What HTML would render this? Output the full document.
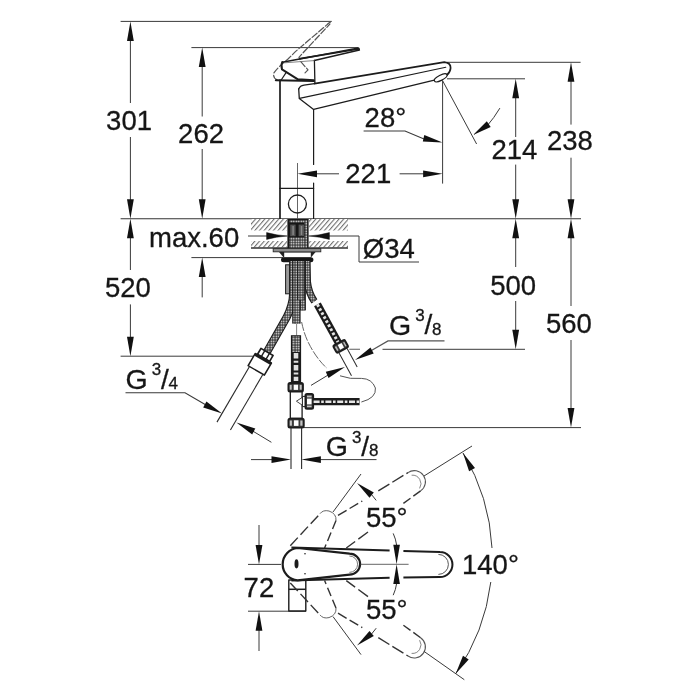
<!DOCTYPE html>
<html lang="en"><head><meta charset="utf-8"><title>Dimensional drawing</title>
<style>html,body{margin:0;padding:0;background:#fff}svg{display:block;will-change:transform}text{font-family:"Liberation Sans",sans-serif;fill:#161616;stroke:#161616;stroke-width:0.3px}</style></head><body>
<svg width="700" height="700" viewBox="0 0 700 700">
<rect width="700" height="700" fill="#fff"/>
<defs>
<pattern id="braid" width="2.5" height="2.5" patternUnits="userSpaceOnUse"><rect width="2.5" height="2.5" fill="#1e1e1e"/><rect x="0.5" y="0.5" width="1.55" height="1.55" fill="#fff"/></pattern>
<pattern id="braidr" width="2.5" height="2.5" patternUnits="userSpaceOnUse" patternTransform="rotate(-29)"><rect width="2.5" height="2.5" fill="#1e1e1e"/><rect x="0.5" y="0.5" width="1.55" height="1.55" fill="#fff"/></pattern>
<pattern id="braidl" width="2.5" height="2.5" patternUnits="userSpaceOnUse" patternTransform="rotate(30)"><rect width="2.5" height="2.5" fill="#1e1e1e"/><rect x="0.5" y="0.5" width="1.55" height="1.55" fill="#fff"/></pattern>
<pattern id="hatch" width="3.5" height="3.5" patternUnits="userSpaceOnUse" patternTransform="rotate(41)"><rect width="3.5" height="3.5" fill="#fff"/><line x1="0.6" y1="0" x2="0.6" y2="3.5" stroke="#5a5a5a" stroke-width="0.95"/></pattern>
</defs>
<g id="dims" fill="none">
<line x1="120.6" y1="21.4" x2="331.4" y2="21.4" stroke="#3a3a3a" stroke-width="1.0" />
<line x1="191.4" y1="47.6" x2="358" y2="47.6" stroke="#3a3a3a" stroke-width="1.0" />
<line x1="120.6" y1="218.7" x2="581" y2="218.7" stroke="#333" stroke-width="1.1" />
<line x1="191.4" y1="257.6" x2="283" y2="257.6" stroke="#3a3a3a" stroke-width="1.0" />
<line x1="120.6" y1="356.2" x2="255" y2="356.2" stroke="#3a3a3a" stroke-width="1.0" />
<line x1="447" y1="62.3" x2="580.6" y2="62.3" stroke="#3a3a3a" stroke-width="1.0" />
<line x1="447" y1="78.8" x2="525" y2="78.8" stroke="#3a3a3a" stroke-width="1.0" />
<line x1="349.3" y1="349.3" x2="360" y2="349.3" stroke="#777" stroke-width="1.2" />
<line x1="382.5" y1="349.3" x2="525" y2="349.3" stroke="#3a3a3a" stroke-width="1.0" />
<line x1="304" y1="427.6" x2="581" y2="427.6" stroke="#3a3a3a" stroke-width="1.0" />
<line x1="130.4" y1="40" x2="130.4" y2="103" stroke="#3a3a3a" stroke-width="1.0" />
<line x1="130.4" y1="137" x2="130.4" y2="200" stroke="#3a3a3a" stroke-width="1.0" />
<line x1="130.4" y1="238" x2="130.4" y2="270" stroke="#3a3a3a" stroke-width="1.0" />
<line x1="130.4" y1="304.4" x2="130.4" y2="338" stroke="#3a3a3a" stroke-width="1.0" />
<line x1="202.2" y1="66" x2="202.2" y2="116.5" stroke="#3a3a3a" stroke-width="1.0" />
<line x1="202.2" y1="149" x2="202.2" y2="200" stroke="#3a3a3a" stroke-width="1.0" />
<line x1="202.2" y1="276" x2="202.2" y2="297.4" stroke="#3a3a3a" stroke-width="1.0" />
<line x1="515.7" y1="97" x2="515.7" y2="137" stroke="#3a3a3a" stroke-width="1.0" />
<line x1="515.7" y1="164.6" x2="515.7" y2="200" stroke="#3a3a3a" stroke-width="1.0" />
<line x1="515.7" y1="237" x2="515.7" y2="267" stroke="#3a3a3a" stroke-width="1.0" />
<line x1="515.7" y1="301" x2="515.7" y2="331" stroke="#3a3a3a" stroke-width="1.0" />
<line x1="571" y1="81" x2="571" y2="124.6" stroke="#3a3a3a" stroke-width="1.0" />
<line x1="571" y1="157.7" x2="571" y2="200" stroke="#3a3a3a" stroke-width="1.0" />
<line x1="571" y1="237" x2="571" y2="306" stroke="#3a3a3a" stroke-width="1.0" />
<line x1="571" y1="340" x2="571" y2="409" stroke="#3a3a3a" stroke-width="1.0" />
<line x1="297.5" y1="163" x2="297.5" y2="221" stroke="#555" stroke-width="0.9" />
<line x1="442.6" y1="80.5" x2="442.6" y2="183.6" stroke="#3a3a3a" stroke-width="1.0" />
<line x1="316" y1="173.8" x2="339" y2="173.8" stroke="#3a3a3a" stroke-width="1.0" />
<line x1="399.6" y1="173.8" x2="424" y2="173.8" stroke="#3a3a3a" stroke-width="1.0" />
<path d="M363.6 131 H405 L424 139" stroke="#3a3a3a" stroke-width="1.1" fill="none" />
<line x1="442.6" y1="80.7" x2="476.6" y2="144" stroke="#3a3a3a" stroke-width="1.0" />
<path d="M499.9 108.1 Q494 118 487 126" stroke="#3a3a3a" stroke-width="1.0" fill="none" />
<line x1="248" y1="236" x2="268" y2="236" stroke="#3a3a3a" stroke-width="1.0" />
<path d="M327 236 H359 V262 H419" stroke="#3a3a3a" stroke-width="1.0" fill="none" />
<path d="M125.5 392.8 H185 L206 405" stroke="#3a3a3a" stroke-width="1.1" fill="none" />
<line x1="252" y1="430.6" x2="271.4" y2="442.3" stroke="#3a3a3a" stroke-width="1.0" />
<path d="M444.5 340.9 H388 L371 350.8" stroke="#555" stroke-width="1.3" fill="none" />
<line x1="329.5" y1="374.2" x2="311" y2="385.4" stroke="#3a3a3a" stroke-width="1.0" />
<line x1="251" y1="459.6" x2="272" y2="459.6" stroke="#3a3a3a" stroke-width="1.0" />
<line x1="320" y1="459.6" x2="376.5" y2="459.6" stroke="#3a3a3a" stroke-width="1.0" />
<line x1="248" y1="564.4" x2="281" y2="564.4" stroke="#3a3a3a" stroke-width="1.0" />
<line x1="248" y1="611.2" x2="306" y2="611.2" stroke="#3a3a3a" stroke-width="1.0" />
<line x1="259" y1="525" x2="259" y2="546" stroke="#3a3a3a" stroke-width="1.0" />
<line x1="259" y1="630" x2="259" y2="651" stroke="#3a3a3a" stroke-width="1.0" />
</g>
<g id="arrows">
<polygon points="130.4,21.4 133.8,40.9 127,40.9" fill="#111"/>
<polygon points="130.4,218.7 127,199.2 133.8,199.2" fill="#111"/>
<polygon points="130.4,218.7 133.8,238.2 127,238.2" fill="#111"/>
<polygon points="130.4,356.2 127,336.7 133.8,336.7" fill="#111"/>
<polygon points="202.2,47.6 205.6,67.1 198.8,67.1" fill="#111"/>
<polygon points="202.2,218.7 198.8,199.2 205.6,199.2" fill="#111"/>
<polygon points="202.2,257.6 205.6,277.1 198.8,277.1" fill="#111"/>
<polygon points="515.7,78.8 519.1,98.3 512.3,98.3" fill="#111"/>
<polygon points="515.7,218.7 512.3,199.2 519.1,199.2" fill="#111"/>
<polygon points="515.7,218.7 519.1,238.2 512.3,238.2" fill="#111"/>
<polygon points="515.7,349.3 512.3,329.8 519.1,329.8" fill="#111"/>
<polygon points="571,62.3 574.4,81.8 567.6,81.8" fill="#111"/>
<polygon points="571,218.7 567.6,199.2 574.4,199.2" fill="#111"/>
<polygon points="571,218.7 574.4,238.2 567.6,238.2" fill="#111"/>
<polygon points="571,427.6 567.6,408.1 574.4,408.1" fill="#111"/>
<polygon points="297.5,173.8 317,170.4 317,177.2" fill="#111"/>
<polygon points="442.6,173.8 423.1,177.2 423.1,170.4" fill="#111"/>
<polygon points="442.6,142.6 422.8,141.6 424.3,135" fill="#111"/>
<polygon points="473.1,134.9 486.8,121.3 490.7,126.9" fill="#111"/>
<path d="M287.4 236 Q276 235.3 266.6 232.6 L266.6 239.4 Q276 236.7 287.4 236 Z" fill="#111" stroke="#111" stroke-width="0.5"/>
<path d="M308.6 236 Q320 235.3 329.4 232.6 L329.4 239.4 Q320 236.7 308.6 236 Z" fill="#111" stroke="#111" stroke-width="0.5"/>
<polygon points="222.1,413.6 203.2,407.6 206.4,401.6" fill="#111"/>
<polygon points="236.4,422.6 255.3,428.5 252.2,434.5" fill="#111"/>
<polygon points="355,360 370.5,347.6 373.7,353.6" fill="#111"/>
<polygon points="345,367.1 328.5,378.1 325.8,371.8" fill="#111"/>
<polygon points="291,459.6 271.5,463 271.5,456.2" fill="#111"/>
<polygon points="301.4,459.6 320.9,456.2 320.9,463" fill="#111"/>
<polygon points="259,564.4 255.6,544.9 262.4,544.9" fill="#111"/>
<polygon points="259,611.2 262.4,630.7 255.6,630.7" fill="#111"/>
</g>
<g id="labels" opacity="0.995">
<text x="106.1" y="129.5" font-size="27.5" >301</text>
<text x="178.1" y="142.6" font-size="27.5" >262</text>
<text x="149" y="246.8" font-size="27.5" >max.60</text>
<text x="104.9" y="297" font-size="27.5" >520</text>
<text x="491.4" y="158.5" font-size="27.5" >214</text>
<text x="546.9" y="149.6" font-size="27.5" >238</text>
<text x="345.3" y="182.8" font-size="27.5" >221</text>
<text x="364.6" y="127.4" font-size="27.5" >28°</text>
<text x="362.8" y="258.1" font-size="27.5" >Ø34</text>
<text x="490.2" y="294.6" font-size="27.5" >500</text>
<text x="546" y="332.6" font-size="27.5" >560</text>
<text x="243.6" y="597" font-size="27.5" >72</text>
<text x="366" y="527.2" font-size="27.5" >55°</text>
<text x="366" y="619" font-size="27.5" >55°</text>
<text x="462" y="573.6" font-size="27.5" >140°</text>
<text x="125.5" y="389" font-size="28.5" >G</text>
<text x="151.7" y="375.2" font-size="17" >3</text>
<text x="161" y="388.8" font-size="28" >/</text>
<text x="168.6" y="388.9" font-size="17" >4</text>
<text x="389" y="334.6" font-size="28.5" >G</text>
<text x="415.2" y="320.8" font-size="17" >3</text>
<text x="424.5" y="334.4" font-size="28" >/</text>
<text x="432.1" y="334.5" font-size="17" >8</text>
<text x="325.8" y="456.4" font-size="28.5" >G</text>
<text x="352" y="442.6" font-size="17" >3</text>
<text x="361.3" y="456.2" font-size="28" >/</text>
<text x="368.9" y="456.3" font-size="17" >8</text>
</g>
<g id="faucet" fill="none" stroke-linejoin="round" stroke-linecap="round">
<path d="M330.3 21.9 L295.4 51.6 L288 59 Q277 68 273.9 73 Q272.6 77.6 277 79.8" stroke="#555" stroke-width="1.2" fill="none" stroke-dasharray="6.5 2.2"/>
<path d="M329.9 24 L298.9 57.3 L301 61.9 L308 69.9 L304.6 73.3" stroke="#555" stroke-width="1.2" fill="none" stroke-dasharray="6.5 2.2" stroke-dashoffset="2"/>
<path d="M331.4 21.5 L327.6 23.8" stroke="#5a5a5a" stroke-width="1.0" fill="none" />
<line x1="280" y1="80" x2="280" y2="218.7" stroke="#1c1c1c" stroke-width="1.7" />
<line x1="313.6" y1="109.5" x2="313.6" y2="164.5" stroke="#1c1c1c" stroke-width="1.2" />
<line x1="313.6" y1="183" x2="313.6" y2="218.7" stroke="#1c1c1c" stroke-width="1.2" />
<line x1="280" y1="188.4" x2="313.6" y2="188.4" stroke="#1c1c1c" stroke-width="1.2" />
<circle cx="297.4" cy="204" r="9" stroke="#1c1c1c" stroke-width="1.3"/>
<line x1="275.8" y1="80.3" x2="314" y2="80.9" stroke="#1c1c1c" stroke-width="2.0" />
<path d="M286.4 72.1 L281.2 80" stroke="#1c1c1c" stroke-width="1.2" fill="none" />
<path d="M282.2 62.2 L358.6 48 L359.4 50 L314.3 60.4" stroke="#1c1c1c" stroke-width="1.5" fill="none" />
<path d="M300 58.6 L358.8 49" stroke="#1c1c1c" stroke-width="1.6" fill="none" />
<path d="M282.3 62.1 Q280.8 65 282 69.4 L297.9 79.3 L313.8 80.2" stroke="#1c1c1c" stroke-width="2.0" fill="none" />
<path d="M314.4 60.4 L314.9 83" stroke="#1c1c1c" stroke-width="1.3" fill="none" />
<path d="M284.5 62.8 L314 60.6" stroke="#666" stroke-width="0.8" fill="none" />
<path d="M314.5 83.6 L444.3 62.2 Q450.8 63 450.6 68 Q450.4 72 447 75" stroke="#1c1c1c" stroke-width="1.7" fill="none" />
<path d="M298.7 89 Q300 85.6 304 85.1 L314.5 83.6" stroke="#1c1c1c" stroke-width="1.3" fill="none" />
<path d="M298.7 89 L299.3 98.6 L313.6 109.4 L434.3 80.2" stroke="#1c1c1c" stroke-width="1.3" fill="none" />
<path d="M299.5 98.4 L445.8 67.2" stroke="#1c1c1c" stroke-width="1.1" fill="none" />
<ellipse cx="440.7" cy="77.8" rx="7" ry="2.6" transform="rotate(-27 440.7 77.8)" stroke="#1c1c1c" stroke-width="1.2" fill="#fff"/>
</g>
<g id="mount">
<rect x="251" y="219" width="36" height="11.5" fill="url(#hatch)"/>
<rect x="309" y="219" width="39" height="11.5" fill="url(#hatch)"/>
<rect x="251" y="241" width="36" height="6.5" fill="url(#hatch)"/>
<rect x="309" y="241" width="39" height="6.5" fill="url(#hatch)"/>
<line x1="251" y1="248" x2="348" y2="248" stroke="#333" stroke-width="1.5" />
<rect x="287.4" y="219" width="21.2" height="29.4" fill="#161616"/>
<rect x="289.4" y="237.4" width="15.2" height="10.4" fill="url(#braid)"/>
<rect x="304.6" y="220" width="2.6" height="27.8" fill="url(#braid)"/>
<rect x="289.6" y="220.2" width="15" height="2.4" fill="url(#braid)"/>
<rect x="290.2" y="224.6" width="5.4" height="11.6" fill="#555"/>
<rect x="298.6" y="224.6" width="5.4" height="11.6" fill="#555"/>
<rect x="292.4" y="226" width="1.4" height="9" fill="#8a8a8a"/>
<rect x="300.8" y="226" width="1.4" height="9" fill="#8a8a8a"/>
<rect x="273.2" y="248.6" width="47.6" height="3.2" fill="#8f8f8f" stroke="#2a2a2a" stroke-width="0.9"/>
<path d="M279 252 L283.6 257.4 L311 257.4 L315.6 252 Z" fill="#222"/>
<rect x="284.2" y="252.6" width="26.6" height="4.6" fill="#fff"/>
<rect x="281" y="257.2" width="32.4" height="5" rx="2.5" fill="#161616"/>
</g>
<g id="hoses" fill="none">
<rect x="285.6" y="264.8" width="4.4" height="29" fill="#9a9a9a" stroke="#1c1c1c" stroke-width="1"/>
<path d="M307 261 L307.4 282 Q308.6 293 314.4 301.4" stroke="#1c1c1c" stroke-width="7.2" fill="none" />
<path d="M307 261 L307.4 282 Q308.6 293 314.4 301.4" stroke="url(#braid)" stroke-width="5.0" fill="none" />
<path d="M317.4 304.4 L338.4 342.8" stroke="#1c1c1c" stroke-width="7.6" fill="none" />
<path d="M317.4 304.4 L338.4 342.8" stroke="#e6e6e6" stroke-width="3.0" fill="none" stroke-dasharray="2.6 2"/>
<path d="M293.2 261 L293.2 293 Q293 305 286.5 317.6 L267.2 351.6" stroke="#1c1c1c" stroke-width="8.2" fill="none" />
<path d="M293.2 261 L293.2 293 Q293 305 286.5 317.6 L267.2 351.6" stroke="url(#braid)" stroke-width="5.999999999999999" fill="none" />
<path d="M302.6 261 V310.4" stroke="#1c1c1c" stroke-width="6.6" fill="none" />
<path d="M302.6 261 V310.4" stroke="url(#braid)" stroke-width="4.3999999999999995" fill="none" />
<path d="M296.4 261 V323.6" stroke="#1c1c1c" stroke-width="8.4" fill="none" />
<path d="M296.4 261 V323.6" stroke="url(#braid)" stroke-width="6.2" fill="none" />
<path d="M300.9 261 V300" stroke="#1c1c1c" stroke-width="7.6" fill="none" />
<path d="M300.9 261 V300" stroke="url(#braid)" stroke-width="5.3999999999999995" fill="none" />
<line x1="296.6" y1="324" x2="296.6" y2="335.4" stroke="#666" stroke-width="0.8" />
<path d="M296 335.2 V383" stroke="#1c1c1c" stroke-width="10.2" fill="none" />
<path d="M296 336.4 V352" stroke="url(#braid)" stroke-width="8" fill="none" />
<path d="M296 353 V381" stroke="#e0e0e0" stroke-width="4.6" fill="none" stroke-dasharray="5.5 2.2 2 2.2"/>
</g>
<g id="fittings" stroke-linejoin="round">
<g transform="translate(263.3 358.3) rotate(30.3)">
<rect x="-7" y="-7.4" width="14" height="6.8" fill="#fff" stroke="#1c1c1c" stroke-width="1.7"/>
<line x1="-2.6" y1="-7.4" x2="-2.6" y2="-0.8" stroke="#1c1c1c" stroke-width="1.4"/>
<line x1="2.8" y1="-7.4" x2="2.8" y2="-0.8" stroke="#1c1c1c" stroke-width="1.4"/>
<rect x="-9.4" y="0" width="18.8" height="14" fill="#fff" stroke="#1c1c1c" stroke-width="1.5"/>
<rect x="-9.6" y="-0.8" width="19.2" height="3" fill="#1c1c1c"/>
<line x1="-7.8" y1="14" x2="-7.8" y2="78.5" stroke="#2a2a2a" stroke-width="1.1"/>
<line x1="7.8" y1="14" x2="7.8" y2="78.5" stroke="#2a2a2a" stroke-width="1.1"/>
</g>
<g transform="translate(340.7 346.4) rotate(-28.6)">
<rect x="-6.6" y="-4.2" width="13.2" height="8.4" rx="1.6" fill="#3a3a3a" stroke="#1c1c1c" stroke-width="1.8"/>
<rect x="-2" y="-2.6" width="4.4" height="5.2" fill="#fff"/>
<rect x="-5.4" y="-2.4" width="1.6" height="4.8" fill="#bbb"/>
<rect x="4" y="-2.4" width="1.4" height="4.8" fill="#bbb"/>
<line x1="-4.6" y1="5" x2="-4.6" y2="31" stroke="#2a2a2a" stroke-width="1"/>
<line x1="4.6" y1="5" x2="4.6" y2="26" stroke="#2a2a2a" stroke-width="1"/>
</g>
<rect x="290.3" y="391" width="11.8" height="27.4" fill="#fff" stroke="#1c1c1c" stroke-width="1.3"/>
<rect x="288.4" y="383" width="14.6" height="8.6" rx="1.6" fill="#3a3a3a" stroke="#1c1c1c" stroke-width="1.8"/>
<rect x="293.7" y="384.7" width="4.4" height="5.2" fill="#fff"/>
<rect x="289.7" y="384.9" width="2" height="4.8" fill="#c4c4c4"/>
<rect x="299.7" y="384.9" width="2" height="4.8" fill="#c4c4c4"/>
<rect x="288.4" y="418.6" width="15.4" height="9" rx="1.6" fill="#3a3a3a" stroke="#1c1c1c" stroke-width="1.8"/>
<rect x="293.9" y="420.3" width="4.6" height="5.6" fill="#fff"/>
<rect x="289.7" y="420.5" width="2.2" height="5.2" fill="#c4c4c4"/>
<rect x="300.3" y="420.5" width="2.2" height="5.2" fill="#c4c4c4"/>
<path d="M302.6 397.2 L296.4 401.2 L302.6 405.4" fill="#fff" stroke="#333" stroke-width="0.9"/>
<rect x="302.4" y="396.4" width="3.2" height="10.2" fill="#fff" stroke="#1c1c1c" stroke-width="1"/>
<rect x="305.4" y="393.8" width="7.8" height="15" rx="1.6" fill="#3a3a3a" stroke="#1c1c1c" stroke-width="1.8"/>
<rect x="307" y="398.6" width="4.6" height="5.8" fill="#fff"/>
<rect x="307" y="395.6" width="4.6" height="1.8" fill="#c4c4c4"/>
<rect x="307" y="405.6" width="4.6" height="1.6" fill="#c4c4c4"/>
</g>
<g fill="none">
<path d="M313.6 401.7 H359.6" stroke="#1c1c1c" stroke-width="7.2" fill="none" />
<path d="M313.6 401.7 H359.6" stroke="#e6e6e6" stroke-width="2.6000000000000005" fill="none" stroke-dasharray="6 1.6 2.6 1.6"/>
<line x1="291" y1="428" x2="291" y2="469" stroke="#2a2a2a" stroke-width="1.1" />
<line x1="301.6" y1="428" x2="301.6" y2="469" stroke="#2a2a2a" stroke-width="1.1" />
<path d="M301.6 322 Q304 334 308.6 343 Q316 358 326.6 368" stroke="#555" stroke-width="0.9" fill="none" stroke-dasharray="9 1.5"/>
<path d="M340 375.8 Q350 379.5 361.4 378.4 Q372 378.6 375.4 388 Q376.6 398 361.4 402" stroke="#555" stroke-width="1.0" fill="none" />
</g>
<g id="plan" fill="none" stroke-linecap="butt" stroke-linejoin="round">
<rect x="288.8" y="580" width="17" height="31" fill="#fff" stroke="#1c1c1c" stroke-width="1.4"/>
<line x1="288.8" y1="589.3" x2="305.8" y2="589.3" stroke="#1c1c1c" stroke-width="1.5" />
<path d="M290.3 545.7 L320 513.7" stroke="#333" stroke-width="1.4" fill="none" stroke-dasharray="11 4"/>
<path d="M320 513.7 Q323 509.6 329 511 Q336.6 513.6 336 520.6" stroke="#666" stroke-width="1.0" fill="none" />
<path d="M336 520.6 L324.6 548" stroke="#333" stroke-width="1.4" fill="none" stroke-dasharray="9 4"/>
<path d="M338 515.4 L362.3 501" stroke="#333" stroke-width="1.4" fill="none" stroke-dasharray="10 3.5"/>
<path d="M378.3 490.9 L408 472.6" stroke="#333" stroke-width="1.4" fill="none" stroke-dasharray="13 3.5"/>
<path d="M408 472.6 A11.1 11.1 0 0 1 420.6 490.9" stroke="#555" stroke-width="1.1" fill="none" />
<path d="M411.6 475.2 A8.6 8.6 0 0 1 419.6 488.4" stroke="#777" stroke-width="0.9" fill="none" />
<path d="M420.6 490.9 L403.4 503.4" stroke="#333" stroke-width="1.4" fill="none" stroke-dasharray="9 3.5"/>
<path d="M368 532 L346.3 548" stroke="#333" stroke-width="1.4" fill="none" stroke-dasharray="12 4"/>
<line x1="333" y1="512" x2="361" y2="474" stroke="#3a3a3a" stroke-width="1.0" />
<line x1="424" y1="476" x2="472" y2="446" stroke="#3a3a3a" stroke-width="1.0" />
<path d="M396.6 545 Q395.8 539 393.2 533.4" stroke="#3a3a3a" stroke-width="1.0" fill="none" />
<path d="M371.5 494.5 L376.2 500.4" stroke="#3a3a3a" stroke-width="1.0" fill="none" />
<g transform="matrix(1 0 0 -1 0 1128.6)">
<path d="M290.3 545.7 L320 513.7" stroke="#333" stroke-width="1.4" fill="none" stroke-dasharray="11 4"/>
<path d="M320 513.7 Q323 509.6 329 511 Q336.6 513.6 336 520.6" stroke="#666" stroke-width="1.0" fill="none" />
<path d="M336 520.6 L324.6 548" stroke="#333" stroke-width="1.4" fill="none" stroke-dasharray="9 4"/>
<path d="M338 515.4 L362.3 501" stroke="#333" stroke-width="1.4" fill="none" stroke-dasharray="10 3.5"/>
<path d="M378.3 490.9 L408 472.6" stroke="#333" stroke-width="1.4" fill="none" stroke-dasharray="13 3.5"/>
<path d="M408 472.6 A11.1 11.1 0 0 1 420.6 490.9" stroke="#555" stroke-width="1.1" fill="none" />
<path d="M411.6 475.2 A8.6 8.6 0 0 1 419.6 488.4" stroke="#777" stroke-width="0.9" fill="none" />
<path d="M420.6 490.9 L403.4 503.4" stroke="#333" stroke-width="1.4" fill="none" stroke-dasharray="9 3.5"/>
<path d="M368 532 L346.3 548" stroke="#333" stroke-width="1.4" fill="none" stroke-dasharray="12 4"/>
<line x1="333" y1="512" x2="361" y2="474" stroke="#3a3a3a" stroke-width="1.0" />
<line x1="424" y1="477.2" x2="464.3" y2="448.9" stroke="#3a3a3a" stroke-width="1.0" />
<path d="M396.6 545 Q395.8 539 393.2 533.4" stroke="#3a3a3a" stroke-width="1.0" fill="none" />
<path d="M371.5 494.5 L376.2 500.4" stroke="#3a3a3a" stroke-width="1.0" fill="none" />
</g>
<path d="M291.4 547.5 L389.6 550.4" stroke="#1c1c1c" stroke-width="2.0" fill="none" />
<path d="M403.4 550.9 L440 552.1 A12.45 12.45 0 0 1 440 577 L403.4 577.5" stroke="#1c1c1c" stroke-width="2.0" fill="none" />
<path d="M291.4 580.4 L389.6 577.8" stroke="#1c1c1c" stroke-width="2.0" fill="none" />
<path d="M438.4 554.4 A9.9 9.9 0 0 1 438.4 574.4" stroke="#444" stroke-width="0.9" fill="none" />
<path d="M297.6 548 A16.2 16.2 0 0 0 297.6 580.3 L349.6 574.6 A10.5 10.5 0 0 0 349.6 553.6 Z" stroke="#1c1c1c" stroke-width="2.2" fill="#fff" />
<path d="M349.4 556 A8.2 8.2 0 0 1 349.4 572.4" stroke="#555" stroke-width="0.8" fill="none" />
<ellipse cx="296.5" cy="563.8" rx="2" ry="4.6" fill="#1c1c1c"/>
<circle cx="305" cy="553.8" r="0.8" fill="#1c1c1c"/><circle cx="305" cy="573.8" r="0.8" fill="#1c1c1c"/>
<line x1="360.6" y1="564.3" x2="408.6" y2="564.3" stroke="#555" stroke-width="0.9" />
</g>
<g id="planarrows">
<polygon points="396.6,564.3 393.3,544.7 399.9,544.7" fill="#111"/>
<polygon points="396.6,564.3 399.9,583.9 393.3,583.9" fill="#111"/>
<polygon points="357,483 373.8,492.5 369.5,497.7" fill="#111"/>
<polygon points="357,645.6 369.5,630.9 373.8,636.1" fill="#111"/>
</g>
<path d="M463 453 A202.4 202.4 0 0 1 492 548" stroke="#3a3a3a" stroke-width="1.0" fill="none" />
<path d="M490.8 582 A202.4 202.4 0 0 1 455.7 673.7" stroke="#3a3a3a" stroke-width="1.0" fill="none" />
<polygon points="463,453 475,468.1 469.1,471.3" fill="#111"/>
<polygon points="455.7,673.7 463,655.8 468.7,659.4" fill="#111"/>
</svg></body></html>
